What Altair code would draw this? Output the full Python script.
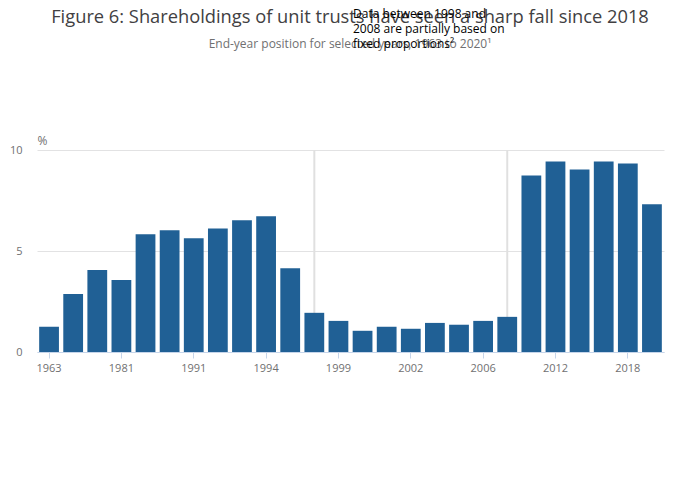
import altair as alt
import pandas as pd

years = ["1963", "1969", "1975", "1981", "1989", "1990", "1991", "1992", "1993", "1994",
         "1997", "1998", "1999", "2000", "2001", "2002", "2003", "2004", "2006", "2008",
         "2010", "2012", "2014", "2016", "2018", "2020"]
values = [1.25, 2.87, 4.06, 3.56, 5.83, 6.03, 5.63, 6.12, 6.52, 6.72,
          4.15, 1.94, 1.54, 1.05, 1.25, 1.15, 1.44, 1.35, 1.54, 1.74,
          8.74, 9.43, 9.03, 9.43, 9.33, 7.31]
tick_years = years[::3]
marker_years = ["1998", "2008"]
note_text = "Data between 1998 and\n2008 are partially based on\nfixed proportions²"
title_text = "Figure 6: Shareholdings of unit trusts have seen a sharp fall since 2018"
subtitle_text = "End-year position for selected years, 1963 to 2020¹"

W, H = 627, 202
FONT = "Open Sans"

df = pd.DataFrame({"year": years, "value": values})
markers = pd.DataFrame({"year": marker_years})
note = pd.DataFrame({"text": [note_text]})
titles = pd.DataFrame({"title": [title_text], "subtitle": [subtitle_text]})

xscale = alt.Scale(domain=years, paddingInner=0.18, paddingOuter=0.09)

rules = alt.Chart(markers).mark_rule(color="#e0e0e0", strokeWidth=2).encode(
    x=alt.X("year:N", scale=xscale),
    y=alt.value(0),
    y2=alt.value(H),
)

bars = alt.Chart(df).mark_bar(color="#206095").encode(
    x=alt.X("year:N", scale=xscale, sort=years,
            axis=alt.Axis(title=None, values=tick_years, labelAngle=0,
                          labelAlign="center", labelBaseline="top",
                          domainColor="#c6d5ea", tickColor="#c6d5ea", tickSize=6,
                          labelColor="#707071", labelFont=FONT, labelFontSize=11,
                          labelPadding=4, grid=False)),
    y=alt.Y("value:Q", scale=alt.Scale(domain=[0, 10], nice=False),
            axis=alt.Axis(values=[0, 5, 10], title="%", titleAngle=0, titleX=0, titleY=-3,
                          titleAlign="left", titleBaseline="bottom",
                          titleColor="#707071", titleFont=FONT, titleFontSize=12,
                          titleFontWeight="normal",
                          labelColor="#707071", labelFont=FONT, labelFontSize=11,
                          labelPadding=15, ticks=False, domain=False,
                          gridColor="#e2e2e3", gridWidth=1)),
)

note_mark = alt.Chart(note).mark_text(align="left", baseline="top", font=FONT, fontSize=12,
                                      color="#000000", lineBreak="\n", lineHeight=15).encode(
    x=alt.value(316),
    y=alt.value(-141.5),
    text="text:N",
)

title_mark = alt.Chart(titles).mark_text(align="center", baseline="middle", font=FONT,
                                         fontSize=18.3, color="#414042").encode(
    x=alt.value(313),
    y=alt.value(-132),
    text="title:N",
)

subtitle_mark = alt.Chart(titles).mark_text(align="center", baseline="middle", font=FONT,
                                            fontSize=12, color="#707071").encode(
    x=alt.value(313),
    y=alt.value(-106),
    text="subtitle:N",
)

chart = alt.layer(rules, bars, title_mark, subtitle_mark, note_mark).properties(
    width=W, height=H,
    autosize=alt.AutoSizeParams(type="none"),
    padding={"left": 29, "top": 142, "right": 28, "bottom": 130},
).configure_view(stroke=None)

chart.save("out.html", embed_options={"renderer": "svg", "actions": False})
